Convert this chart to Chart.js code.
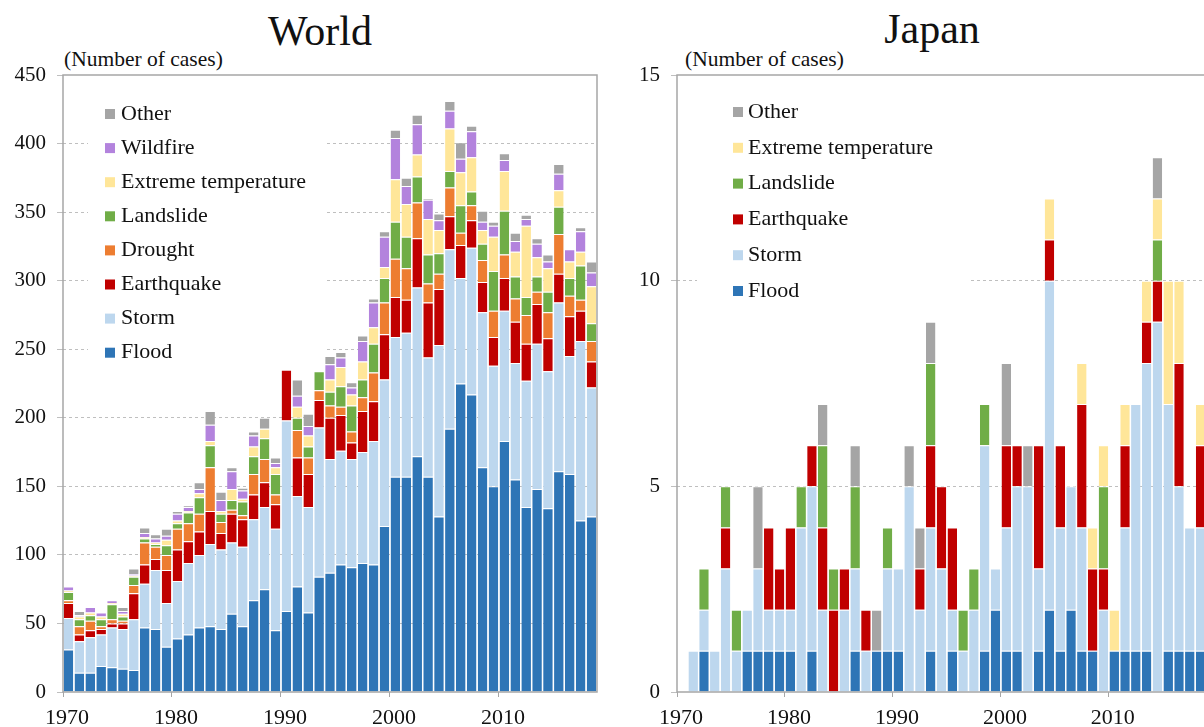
<!DOCTYPE html>
<html>
<head>
<meta charset="utf-8">
<script src="https://cdn.jsdelivr.net/npm/chart.js@4.4.1/dist/chart.umd.min.js"></script>
<style>
  html, body { margin: 0; padding: 0; background: #fff; }
  body { width: 1204px; height: 727px; overflow: hidden; position: relative; font-family: 'Liberation Serif', 'Times New Roman', serif; color: #111; }
  canvas { position: absolute; top: 0; }
  #cw { left: 0; }
  #cj { left: 615px; }
  .title { position: absolute; font-size: 42px; line-height: 42px; text-align: center; white-space: nowrap; }
  .unit { position: absolute; font-size: 21.5px; line-height: 21.5px; white-space: nowrap; }
</style>
</head>
<body>
<div class="title" style="left:0; width:640px; top:10px;">World</div>
<div class="title" style="left:612px; width:640px; top:8px;">Japan</div>
<div class="unit" style="left:64px; top:49px;">(Number of cases)</div>
<div class="unit" style="left:685px; top:49px;">(Number of cases)</div>
<canvas id="cw" width="615" height="727"></canvas>
<canvas id="cj" width="600" height="727"></canvas>
<script>
// ---------- categories ----------
const years = [1970,1971,1972,1973,1974,1975,1976,1977,1978,1979,
               1980,1981,1982,1983,1984,1985,1986,1987,1988,1989,
               1990,1991,1992,1993,1994,1995,1996,1997,1998,1999,
               2000,2001,2002,2003,2004,2005,2006,2007,2008,2009,
               2010,2011,2012,2013,2014,2015,2016,2017,2018];
const xTickYears = [1970, 1980, 1990, 2000, 2010];

// ---------- World (number of cases) ----------
const worldFlood      = [31,14,14,19,18,17,16,47,46,33, 39,42,47,48,46,57,48,67,75,45, 59,77,58,84,87,93,91,94,93,121, 157,157,172,157,128,192,225,217,164,150, 183,155,135,148,134,161,159,125,128];
const worldStorm      = [23,23,26,23,29,29,37,32,43,32, 42,52,53,60,58,52,58,59,60,74, 139,66,77,109,83,83,79,81,90,107, 102,105,123,87,125,131,77,107,113,88, 95,85,92,106,100,123,86,131,94];
const worldEarthquake = [11,5,5,4,3,4,19,14,8,24, 23,16,17,24,12,21,20,18,18,18, 37,28,24,20,30,26,12,30,29,33, 29,24,36,40,41,24,24,20,22,21, 24,30,27,29,24,21,29,22,19];
const worldDrought    = [2,6,7,2,3,2,6,16,9,11, 15,13,13,32,8,3,3,15,17,7, 0,20,12,7,9,6,8,10,21,23, 28,23,26,14,11,21,9,11,16,19, 17,17,21,9,19,29,15,8,15];
const worldLandslide  = [6,5,4,5,11,3,6,3,2,7, 4,8,12,16,6,7,10,13,15,15, 0,9,8,14,10,15,19,13,21,18, 27,23,19,21,15,12,20,10,12,29, 32,16,13,11,15,20,13,25,13];
const worldExtremeTemp= [1,2,2,2,1,2,1,1,1,4, 2,1,3,3,2,8,2,7,7,5, 0,8,8,0,9,14,8,13,12,8, 31,24,16,26,17,31,24,25,10,25, 29,18,52,14,17,12,12,10,27];
const worldWildfire   = [3,1,4,3,2,2,1,3,3,3, 5,3,3,12,8,13,6,8,0,3, 0,8,7,0,11,7,5,15,18,22, 30,13,22,14,7,13,10,19,6,8, 8,8,5,10,5,12,9,15,10];
const worldOther      = [0,3,0,0,0,3,4,4,3,5, 2,1,5,10,6,3,2,3,8,4, 0,12,9,0,6,4,4,4,3,4, 6,6,7,1,5,7,12,4,8,3, 5,6,3,4,5,7,0,3,8];
const worldYMax = 450, worldYStep = 50;

// ---------- Japan (number of cases) ----------
const japanFlood       = [0,0,1,0,0,0,1,1,1,1, 1,0,1,0,0,0,1,0,1,1, 1,0,0,1,0,1,0,0,1,2, 1,1,0,1,2,1,2,1,1,0, 1,1,1,1,0,1,1,1,1];
const japanStorm       = [0,1,1,1,3,1,1,2,1,1, 1,4,4,2,0,2,2,1,0,2, 2,5,2,3,3,1,1,2,5,1, 3,4,5,2,8,3,3,3,0,2, 0,3,6,7,9,6,4,3,3];
const japanEarthquake  = [0,0,0,0,1,0,0,0,2,1, 2,0,1,2,2,1,0,1,0,0, 0,0,1,2,2,2,0,0,0,0, 2,1,0,3,1,2,0,3,2,1, 0,2,0,1,1,0,3,0,2];
const japanLandslide   = [0,0,1,0,1,1,0,0,0,0, 0,1,0,2,1,0,2,0,0,1, 0,0,0,2,0,0,1,1,1,0, 0,0,0,0,0,0,0,0,0,2, 0,0,0,0,1,0,0,0,0];
const japanExtremeTemp = [0,0,0,0,0,0,0,0,0,0, 0,0,0,0,0,0,0,0,0,0, 0,0,0,0,0,0,0,0,0,0, 0,0,0,0,1,0,0,1,1,1, 1,1,0,1,1,3,2,0,1];
const japanOther       = [0,0,0,0,0,0,0,2,0,0, 0,0,0,1,0,0,1,0,1,0, 0,1,1,1,0,0,0,0,0,0, 2,0,1,0,0,0,0,0,0,0, 0,0,0,0,1,0,0,0,0];
const japanYMax = 15, japanYStep = 5;

// ---------- colours ----------
const COLORS = {
  Flood: '#2E75B6', Storm: '#BDD7EE', Earthquake: '#C00000', Drought: '#ED7D31',
  Landslide: '#70AD47', 'Extreme temperature': '#FFE699', Wildfire: '#B383DD', Other: '#A5A5A5'
};

Chart.defaults.font.family = "'Liberation Serif', 'Times New Roman', serif";
Chart.defaults.color = '#111';

function makeDataset(label, values) {
  return {
    label: label,
    data: years.map((yr, i) => ({ x: yr + 0.5, y: values[i] })),
    backgroundColor: COLORS[label],
    borderColor: '#ffffff',
    borderWidth: { top: 1, left: 0, right: 0, bottom: 0 },
    borderSkipped: false,
    barPercentage: 0.88,
    categoryPercentage: 1.0,
    stack: 'all'
  };
}

const frameLegend = {
  id: 'frameLegend',
  beforeDatasetsDraw(chart, args, o) {
    const ctx = chart.ctx;
    ctx.save();
    ctx.fillStyle = '#ffffff';
    ctx.fillRect(o.box[0], o.box[1], o.box[2] - o.box[0], o.box[3] - o.box[1]);
    ctx.font = o.fontSize + "px 'Liberation Serif', 'Times New Roman', serif";
    ctx.textBaseline = 'middle';
    ctx.textAlign = 'left';
    const ds = chart.data.datasets.slice().reverse();
    ds.forEach((d, i) => {
      const cy = o.y + i * o.gap;
      ctx.fillStyle = d.backgroundColor;
      ctx.fillRect(o.x, cy - o.size / 2, o.size, o.size);
      ctx.fillStyle = '#111';
      ctx.fillText(d.label, o.textX, cy);
    });
    ctx.restore();
  },
  afterDraw(chart) {
    const a = chart.chartArea, ctx = chart.ctx;
    ctx.save();
    ctx.strokeStyle = '#A6A6A6';
    ctx.lineWidth = 1.5;
    ctx.strokeRect(a.left, a.top, a.right - a.left, a.bottom - a.top);
    ctx.restore();
  }
};

function makeChart(canvasId, datasets, yMax, yStep, axisW, padRight, legendOpts) {
  const gridCol = '#BFBFBF';
  return new Chart(document.getElementById(canvasId), {
    type: 'bar',
    data: { datasets: datasets },
    plugins: [frameLegend],
    options: {
      responsive: false,
      animation: false,
      layout: { padding: { top: 75, right: padRight, left: 0, bottom: 0 } },
      plugins: {
        legend: { display: false },
        tooltip: { enabled: false },
        title: { display: false },
        frameLegend: legendOpts
      },
      scales: {
        x: {
          type: 'linear',
          offset: false,
          min: 1970, max: 2019,
          afterBuildTicks: s => { s.ticks = xTickYears.map(v => ({ value: v })); },
          afterFit: s => { s.height = 35; },
          grid: { offset: false, drawOnChartArea: false, drawTicks: true, tickLength: 5, color: '#A6A6A6', tickColor: '#A6A6A6' },
          border: { display: false },
          ticks: { padding: 8, labelOffset: 4, font: { size: 22 }, color: '#111', maxRotation: 0, autoSkip: false, callback: v => String(v) }
        },
        y: {
          stacked: true,
          min: 0, max: yMax,
          afterFit: s => { s.width = axisW; },
          ticks: { stepSize: yStep, padding: 11, font: { size: 21 }, color: '#111' },
          grid: {
            color: c => (c.tick && (c.tick.value === 0 || c.tick.value === yMax)) ? 'rgba(0,0,0,0)' : gridCol,
            tickColor: gridCol, tickLength: 6, lineWidth: 1, borderDash: [3, 3]
          },
          border: { display: false, dash: [3, 3] }
        }
      }
    }
  });
}

const worldDatasets = [
  makeDataset('Flood', worldFlood),
  makeDataset('Storm', worldStorm),
  makeDataset('Earthquake', worldEarthquake),
  makeDataset('Drought', worldDrought),
  makeDataset('Landslide', worldLandslide),
  makeDataset('Extreme temperature', worldExtremeTemp),
  makeDataset('Wildfire', worldWildfire),
  makeDataset('Other', worldOther)
];
const japanDatasets = [
  makeDataset('Flood', japanFlood),
  makeDataset('Storm', japanStorm),
  makeDataset('Earthquake', japanEarthquake),
  makeDataset('Landslide', japanLandslide),
  makeDataset('Extreme temperature', japanExtremeTemp),
  makeDataset('Other', japanOther)
];

makeChart('cw', worldDatasets, worldYMax, worldYStep, 63, 18,
  { box: [88, 92, 325, 372], x: 105, y: 114, gap: 34.1, size: 10, textX: 121, fontSize: 22 });
makeChart('cj', japanDatasets, japanYMax, japanYStep, 62, 9,
  { box: [82, 92, 353, 310], x: 118, y: 112, gap: 35.8, size: 10, textX: 133, fontSize: 22 });
</script>
</body>
</html>
